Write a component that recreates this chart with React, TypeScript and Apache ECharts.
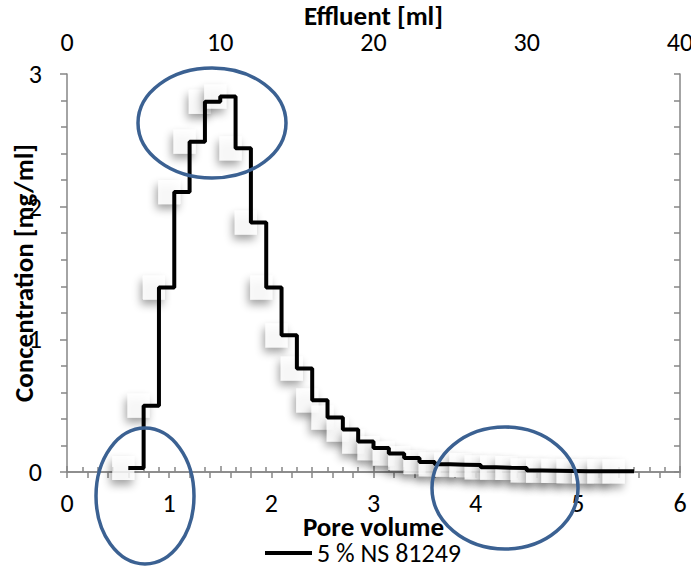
import React, { useEffect, useRef } from "react";
import * as echarts from "echarts";

// Fraction start volumes (ml) and measured concentration (mg/ml)
const fractionStartMl = [4, 5, 6, 7, 8, 9, 10, 11, 12, 13, 14, 15, 16, 17, 18, 19, 20, 21, 22, 23, 24, 25, 26, 27, 28, 29, 30, 31, 32, 33, 34, 35, 36];
const concentration = [0.03, 0.5, 1.39, 2.11, 2.49, 2.79, 2.83, 2.44, 1.88, 1.39, 1.03, 0.78, 0.54, 0.41, 0.32, 0.23, 0.18, 0.14, 0.105, 0.075, 0.058, 0.055, 0.052, 0.035, 0.032, 0.03, 0.012, 0.01, 0.008, 0.006, 0.005, 0.005, 0.005];
const lastFractionEndMl = 37;
const mlPerPoreVolume = 40 / 6;

const poreVolumeTicks = [0, 1, 2, 3, 4, 5, 6];
const effluentTicks = [0, 10, 20, 30, 40];
const concentrationTicks = [0, 1, 2, 3];

const seriesName = "5 % NS 81249";
const FONT = "Carlito, Calibri, Lato, sans-serif";
const AXIS_GREY = "#868686";

export default function App() {
  const ref = useRef<HTMLDivElement>(null);
  useEffect(() => {
    if (!ref.current) return;
    const chart = echarts.init(ref.current, undefined, { renderer: "svg" });
    const stepData: number[][] = fractionStartMl.map((ml, i) => [ml / mlPerPoreVolume, concentration[i]]);
    stepData.push([lastFractionEndMl / mlPerPoreVolume, concentration[concentration.length - 1]]);
    const markerData = fractionStartMl.map((ml, i) => [ml / mlPerPoreVolume, concentration[i]]);

    const ellipseStyle = { fill: "none", stroke: "#3b6192", lineWidth: 3.5 };

    chart.setOption({
      animation: false,
      backgroundColor: "#ffffff",
      textStyle: { fontFamily: FONT },
      grid: { left: 67, right: 11, top: 74, bottom: 95, containLabel: false, outerBoundsMode: "none" },
      legend: {
        data: [seriesName],
        left: 265,
        top: 540,
        padding: 0,
        icon: "rect",
        itemWidth: 47,
        itemHeight: 4,
        itemGap: 5,
        textStyle: { fontFamily: FONT, fontSize: 26, color: "#000" },
      },
      xAxis: [
        {
          type: "value",
          position: "bottom",
          min: poreVolumeTicks[0],
          max: poreVolumeTicks[poreVolumeTicks.length - 1],
          interval: 1,
          name: "Pore volume",
          nameLocation: "middle",
          nameGap: 41,
          nameMoveOverlap: false,
          nameTextStyle: { fontFamily: FONT, fontSize: 27, fontWeight: "bold", color: "#000" },
          axisLine: { show: true, onZero: false, lineStyle: { color: AXIS_GREY, width: 1.5 } },
          axisTick: { show: true, inside: false, length: 6, lineStyle: { color: AXIS_GREY, width: 1.5 } },
          minorTick: { show: true, splitNumber: 5, length: 6, lineStyle: { color: AXIS_GREY, width: 1.5 } },
          axisLabel: { fontFamily: FONT, fontSize: 26, color: "#000", margin: 18 },
          splitLine: { show: false },
        },
        {
          type: "value",
          position: "top",
          min: effluentTicks[0],
          max: effluentTicks[effluentTicks.length - 1],
          interval: 10,
          name: "Effluent [ml]",
          nameLocation: "middle",
          nameGap: 45,
          nameMoveOverlap: false,
          nameTextStyle: { fontFamily: FONT, fontSize: 27, fontWeight: "bold", color: "#000" },
          axisLine: { show: true, lineStyle: { color: AXIS_GREY, width: 1.5 } },
          axisTick: { show: true, inside: false, length: 6, lineStyle: { color: AXIS_GREY, width: 1.5 } },
          minorTick: { show: true, splitNumber: 10, length: 5, lineStyle: { color: AXIS_GREY, width: 1.5 } },
          axisLabel: { fontFamily: FONT, fontSize: 26, color: "#000", margin: 19 },
          splitLine: { show: false },
        },
      ],
      yAxis: [
        {
          type: "value",
          position: "left",
          min: concentrationTicks[0],
          max: concentrationTicks[concentrationTicks.length - 1],
          interval: 1,
          name: "Concentration [mg/ml]",
          nameLocation: "middle",
          nameGap: 30,
          nameMoveOverlap: false,
          nameTextStyle: { fontFamily: FONT, fontSize: 27, fontWeight: "bold", color: "#000" },
          axisLine: { show: true, onZero: false, lineStyle: { color: AXIS_GREY, width: 1.5 } },
          axisTick: { show: true, inside: false, length: 7, lineStyle: { color: AXIS_GREY, width: 1.5 } },
          minorTick: { show: true, splitNumber: 5, length: 6, lineStyle: { color: AXIS_GREY, width: 1.5 } },
          axisLabel: { fontFamily: FONT, fontSize: 26, color: "#000", margin: 25 },
          splitLine: { show: false },
        },
        {
          type: "value",
          position: "right",
          min: concentrationTicks[0],
          max: concentrationTicks[concentrationTicks.length - 1],
          interval: 1,
          axisLine: { show: true, onZero: false, lineStyle: { color: AXIS_GREY, width: 1.5 } },
          axisTick: { show: true, inside: true, length: 6, lineStyle: { color: AXIS_GREY, width: 1.5 } },
          minorTick: { show: true, splitNumber: 5, length: 6, lineStyle: { color: AXIS_GREY, width: 1.5 } },
          axisLabel: { show: false },
          splitLine: { show: false },
        },
      ],
      series: [
        {
          name: "markers",
          type: "scatter",
          xAxisIndex: 0,
          yAxisIndex: 0,
          data: markerData,
          symbol: "rect",
          symbolSize: [22, 24],
          symbolOffset: [-5, 0],
          silent: true,
          z: 1,
          itemStyle: {
            color: "#ffffff",
            shadowBlur: 8,
            shadowColor: "rgba(0,0,0,0.45)",
            shadowOffsetX: -2,
            shadowOffsetY: 5,
          },
        },
        {
          name: seriesName,
          type: "line",
          xAxisIndex: 0,
          yAxisIndex: 0,
          step: "end",
          data: stepData,
          showSymbol: false,
          symbol: "none",
          z: 3,
          lineStyle: { color: "#000000", width: 4 },
          itemStyle: { color: "#000000" },
        },
      ],
      graphic: [
        { type: "ellipse", z: 100, shape: { cx: 212, cy: 123, rx: 74, ry: 55 }, style: ellipseStyle },
        { type: "ellipse", z: 100, shape: { cx: 145, cy: 496, rx: 49, ry: 68 }, style: ellipseStyle },
        { type: "ellipse", z: 100, shape: { cx: 505, cy: 488, rx: 73, ry: 61 }, style: ellipseStyle },
      ],
    });
    return () => chart.dispose();
  }, []);
  return <div ref={ref} style={{ position: "fixed", left: 0, top: 0, width: 691, height: 567 }} />;
}
